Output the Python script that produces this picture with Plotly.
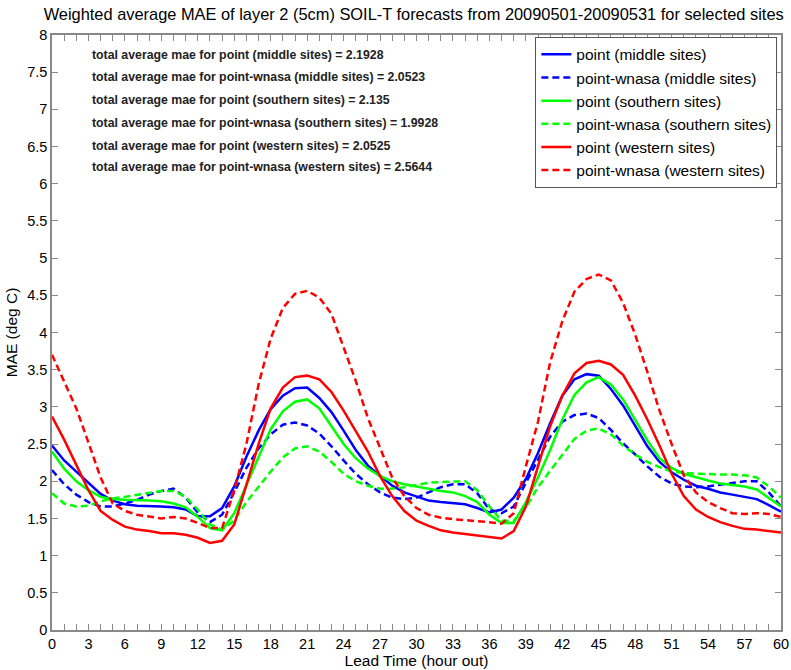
import plotly.graph_objects as go

hours = list(range(0, 61))

point_middle = [2.48, 2.28, 2.13, 1.98, 1.83, 1.74, 1.69, 1.67, 1.67, 1.66,
                1.65, 1.62, 1.53, 1.53, 1.64, 1.93, 2.33, 2.68, 2.97, 3.15,
                3.25, 3.26, 3.12, 2.93, 2.68, 2.42, 2.21, 2.07, 1.94, 1.85,
                1.79, 1.74, 1.72, 1.71, 1.69, 1.64, 1.58, 1.62, 1.78, 2.03,
                2.38, 2.78, 3.15, 3.37, 3.44, 3.42, 3.24, 3.02, 2.75, 2.47,
                2.26, 2.12, 2.02, 1.94, 1.90, 1.85, 1.82, 1.79, 1.76, 1.68,
                1.59]
wnasa_middle = [2.15, 1.96, 1.82, 1.72, 1.66, 1.66, 1.70, 1.75, 1.82, 1.87,
                1.90, 1.78, 1.58, 1.45, 1.55, 1.85, 2.18, 2.44, 2.63, 2.76,
                2.79, 2.75, 2.64, 2.47, 2.28, 2.10, 1.96, 1.85, 1.78, 1.76,
                1.78, 1.85, 1.92, 1.96, 1.96, 1.84, 1.62, 1.57, 1.66, 1.98,
                2.30, 2.60, 2.80, 2.89, 2.91, 2.85, 2.69, 2.51, 2.36, 2.20,
                2.06, 1.97, 1.93, 1.92, 1.93, 1.95, 1.98, 2.00, 2.00, 1.85,
                1.66]
point_southern = [2.40, 2.17, 2.00, 1.88, 1.79, 1.76, 1.75, 1.74, 1.74, 1.73,
                  1.70, 1.65, 1.52, 1.37, 1.34, 1.57, 1.95, 2.33, 2.70, 2.94,
                  3.07, 3.10, 2.98, 2.74, 2.50, 2.31, 2.17, 2.07, 2.00, 1.96,
                  1.93, 1.89, 1.87, 1.85, 1.80, 1.72, 1.55, 1.44, 1.44, 1.72,
                  2.05, 2.42, 2.83, 3.16, 3.33, 3.40, 3.30, 3.10, 2.82, 2.55,
                  2.31, 2.18, 2.10, 2.05, 2.01, 1.97, 1.95, 1.93, 1.89, 1.78,
                  1.66]
wnasa_southern = [1.84, 1.70, 1.66, 1.67, 1.73, 1.77, 1.79, 1.82, 1.85, 1.87,
                  1.87, 1.79, 1.62, 1.42, 1.35, 1.47, 1.72, 1.93, 2.13, 2.32,
                  2.44, 2.47, 2.40, 2.26, 2.10, 2.00, 1.94, 1.90, 1.90, 1.92,
                  1.95, 1.98, 1.99, 2.00, 2.00, 1.88, 1.66, 1.47, 1.47, 1.65,
                  1.92, 2.14, 2.36, 2.57, 2.68, 2.71, 2.63, 2.48, 2.36, 2.26,
                  2.19, 2.13, 2.11, 2.10, 2.10, 2.09, 2.09, 2.08, 2.05, 1.93,
                  1.78]
point_western = [2.87, 2.56, 2.22, 1.88, 1.60, 1.48, 1.39, 1.35, 1.33, 1.30,
                 1.30, 1.28, 1.24, 1.17, 1.20, 1.42, 1.95, 2.50, 2.98, 3.26,
                 3.40, 3.42, 3.37, 3.20, 2.95, 2.68, 2.40, 2.07, 1.80, 1.60,
                 1.47, 1.40, 1.34, 1.31, 1.29, 1.28, 1.26, 1.23, 1.33, 1.66,
                 2.20, 2.74, 3.15, 3.45, 3.59, 3.62, 3.57, 3.43, 3.15, 2.83,
                 2.48, 2.10, 1.80, 1.62, 1.52, 1.45, 1.40, 1.36, 1.35, 1.33,
                 1.31]
wnasa_western = [3.70, 3.35, 2.98, 2.52, 2.05, 1.70, 1.60, 1.55, 1.52, 1.50,
                 1.52, 1.50, 1.44, 1.37, 1.37, 1.88, 2.50, 3.30, 3.92, 4.33,
                 4.52, 4.56, 4.47, 4.25, 3.80, 3.35, 2.85, 2.45, 2.05, 1.80,
                 1.64, 1.55, 1.51, 1.49, 1.48, 1.47, 1.45, 1.43, 1.57, 2.20,
                 2.80, 3.60, 4.15, 4.55, 4.72, 4.78, 4.70, 4.40, 3.97, 3.47,
                 2.95, 2.50, 2.08, 1.85, 1.72, 1.64, 1.57, 1.56, 1.57, 1.56,
                 1.52]

series_names = ["point (middle sites)", "point-wnasa (middle sites)",
                "point (southern sites)", "point-wnasa (southern sites)",
                "point (western sites)", "point-wnasa (western sites)"]
series_values = [point_middle, wnasa_middle, point_southern, wnasa_southern,
                 point_western, wnasa_western]
series_colors = ["#0000FF", "#0000FF", "#00FF00", "#00FF00", "#FF0000", "#FF0000"]
series_dash = ["solid", "7px,4px", "solid", "7px,4px", "solid", "7px,4px"]

summary_texts = [
    "total average mae for point (middle sites) = 2.1928",
    "total average mae for point-wnasa (middle sites) = 2.0523",
    "total average mae for point (southern sites) = 2.135",
    "total average mae for point-wnasa (southern sites) = 1.9928",
    "total average mae for point (western sites) = 2.0525",
    "total average mae for point-wnasa (western sites) = 2.5644",
]
summary_y = [7.73, 7.43, 7.12, 6.82, 6.51, 6.23]

title_text = "Weighted average MAE of layer 2 (5cm) SOIL-T forecasts from 20090501-20090531 for selected sites"

FONT = "Liberation Sans, Arial, sans-serif"

fig = go.Figure()
for name, vals, col, dash in zip(series_names, series_values, series_colors, series_dash):
    fig.add_trace(go.Scatter(x=hours, y=vals, mode="lines", name=name,
                             line=dict(color=col, width=2.5, dash=dash)))

for txt, yv in zip(summary_texts, summary_y):
    fig.add_annotation(x=3.1, y=yv, xref="x", yref="y", text="<b>" + txt + "</b>",
                       showarrow=False, xanchor="left", yanchor="middle",
                       font=dict(family=FONT, size=12.3, color="#222"))

axis_common = dict(showline=True, linecolor="#888888", linewidth=1.5, mirror="ticks",
                   ticks="inside", tickcolor="#888888", ticklen=6, showgrid=False,
                   zeroline=False, automargin=False,
                   tickfont=dict(family=FONT, size=14.5, color="black"))

fig.update_xaxes(range=[0, 60], tick0=0, dtick=3,
                 minor=dict(dtick=1, ticks="inside", ticklen=6, tickcolor="#888888"),
                 title=dict(text="Lead Time (hour out)", font=dict(family=FONT, size=15.5, color="black"), standoff=4),
                 **axis_common)
fig.update_yaxes(range=[0, 8], tick0=0, dtick=0.5,
                 title=dict(text="MAE (deg C)", font=dict(family=FONT, size=15.5, color="black"), standoff=6),
                 **axis_common)

fig.update_layout(
    width=791, height=670,
    margin=dict(l=52, r=10, t=35, b=40, autoexpand=False),
    paper_bgcolor="white", plot_bgcolor="white",
    title=dict(text=title_text, x=0.523, xanchor="center", y=0.979, yanchor="middle",
               font=dict(family=FONT, size=16.4, color="black")),
    legend=dict(x=0.995, xanchor="right", y=0.997, yanchor="top",
                bgcolor="white", bordercolor="#555555", borderwidth=1,
                font=dict(family=FONT, size=15.5, color="black"),
                itemwidth=30, tracegroupgap=0, traceorder="normal"),
    showlegend=True,
)

fig.write_html("out.html")
